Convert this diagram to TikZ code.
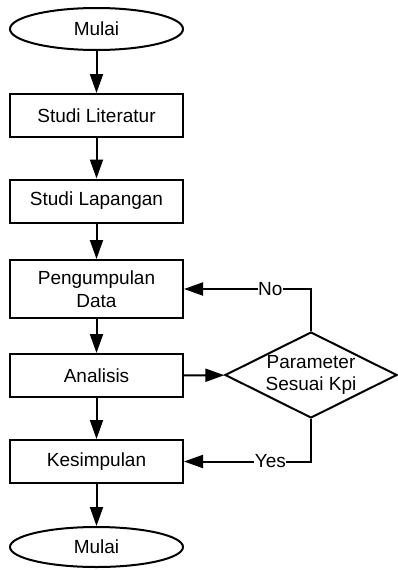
\documentclass[tikz,border=0pt]{standalone}
\usepackage{fontspec}
\setmainfont{Liberation Sans}
\usetikzlibrary{arrows.meta,shapes.geometric}
\begin{document}
\begin{tikzpicture}[x=1pt,y=-1pt, line width=2pt, font=\fontsize{19}{22.5}\selectfont,
 box/.style={draw, minimum width=173pt, minimum height=43pt, inner sep=0pt, align=center},
 term/.style={draw, ellipse, minimum width=173pt, minimum height=42pt, inner sep=0pt},
 dec/.style={draw, diamond, minimum width=172pt, minimum height=86pt, inner sep=0pt},
 arr/.style={-{Triangle[length=19pt,width=13pt]}},
 lbl/.style={fill=white, inner sep=0.5pt}]
\useasboundingbox (0,0) rectangle (397,570);
\node[term] (start) at (96.5,29) {Mulai};
\node[box] (lit) at (96.5,115.5) {Studi Literatur};
\node[box] (lap) at (96.5,201) {Studi Lapangan};
\node[box, minimum height=58pt] (peng) at (96.5,289) {Pengumpulan\\Data};
\node[box] (ana) at (96.5,375.5) {Analisis};
\node[box] (kes) at (96.5,461.5) {Kesimpulan};
\node[term, minimum height=40pt] (fin) at (96.5,547) {Mulai};
\node[dec] (dia) at (311,375) {};
\node[align=center, inner sep=0pt] (diatext) at (dia.center) {Parameter\\Sesuai Kpi};
\draw[arr] (start) -- (lit);
\draw[arr] (lit) -- (lap);
\draw[arr] (lap) -- (peng);
\draw[arr] (peng) -- (ana);
\draw[arr] (ana) -- (kes);
\draw[arr] (kes) -- (fin);
\draw[arr] (ana) -- (dia);
\draw[arr] (dia.north) |- node[lbl, pos=0.66] {No} (peng.east);
\draw[arr] (dia.south) |- node[lbl, pos=0.66] {Yes} (kes.east);
\end{tikzpicture}
\end{document}
